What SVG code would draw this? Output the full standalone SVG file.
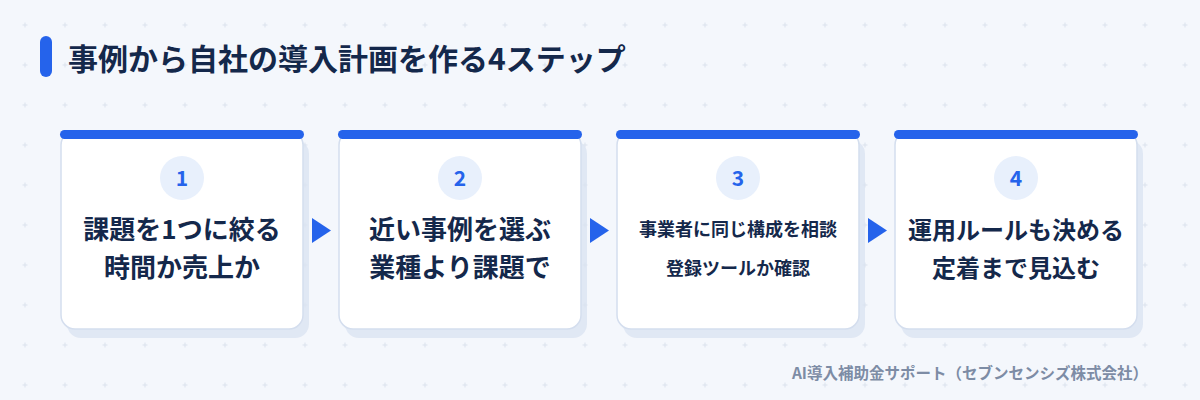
<svg xmlns="http://www.w3.org/2000/svg" width="1200" height="400" viewBox="0 0 1200 400">
  <defs>
    <pattern id="grid" x="5" y="5" width="40" height="40" patternUnits="userSpaceOnUse">
      <path d="M17.5 20h5M20 17.5v5" stroke="#dbe2ed" stroke-width="1"/>
    </pattern>
    <style>
      .t { font-family: "Noto Sans CJK JP", "Noto Sans", sans-serif; font-weight: 700; }
      .title { font-size: 30px; fill: #14284b; }
      .card { fill: #ffffff; stroke: #d4deee; stroke-width: 1.5; }
      .shadow { fill: #dbe4f1; opacity: 0.8; }
      .bar { fill: #2563eb; }
      .badge { fill: #e8f0fc; }
      .num { font-size: 21px; fill: #2563eb; text-anchor: middle; }
      .lbl { font-size: 26px; fill: #14284b; text-anchor: middle; }
      .lblm { font-size: 24px; fill: #14284b; text-anchor: middle; }
      .lbls { font-size: 18px; fill: #14284b; text-anchor: middle; }
      .arrow { fill: #2563eb; }
      .foot { font-size: 15.5px; fill: #7d8ca5; text-anchor: end; }
    </style>
  </defs>
  <rect width="1200" height="400" fill="#f4f7fc"/>
  <rect width="1200" height="400" fill="url(#grid)"/>

  <g id="title">
    <rect x="40" y="36" width="12" height="41" rx="6" fill="#2563eb"/>
    <text class="t title" x="68" y="70">事例から自社の導入計画を作る4ステップ</text>
  </g>

  <g id="step1">
    <rect class="shadow" x="67" y="140" width="242" height="198" rx="14"/>
    <rect class="card" x="61" y="131" width="242" height="198" rx="14"/>
    <rect class="bar" x="60" y="130" width="244" height="9" rx="4.5"/>
    <circle class="badge" cx="182" cy="178" r="22"/>
    <text class="t num" x="182" y="186">1</text>
    <text class="t lbl" x="182" y="239">課題を1つに絞る</text>
    <text class="t lbl" x="182" y="277">時間か売上か</text>
  </g>

  <g id="step2">
    <rect class="shadow" x="345" y="140" width="242" height="198" rx="14"/>
    <rect class="card" x="339" y="131" width="242" height="198" rx="14"/>
    <rect class="bar" x="338" y="130" width="244" height="9" rx="4.5"/>
    <circle class="badge" cx="460" cy="178" r="22"/>
    <text class="t num" x="460" y="186">2</text>
    <text class="t lbl" x="460" y="239">近い事例を選ぶ</text>
    <text class="t lbl" x="460" y="277">業種より課題で</text>
  </g>

  <g id="step3">
    <rect class="shadow" x="623" y="140" width="242" height="198" rx="14"/>
    <rect class="card" x="617" y="131" width="242" height="198" rx="14"/>
    <rect class="bar" x="616" y="130" width="244" height="9" rx="4.5"/>
    <circle class="badge" cx="738" cy="178" r="22"/>
    <text class="t num" x="738" y="186">3</text>
    <text class="t lbls" x="738" y="236">事業者に同じ構成を相談</text>
    <text class="t lbls" x="738" y="275">登録ツールか確認</text>
  </g>

  <g id="step4">
    <rect class="shadow" x="901" y="140" width="242" height="198" rx="14"/>
    <rect class="card" x="895" y="131" width="242" height="198" rx="14"/>
    <rect class="bar" x="894" y="130" width="244" height="9" rx="4.5"/>
    <circle class="badge" cx="1016" cy="178" r="22"/>
    <text class="t num" x="1016" y="186">4</text>
    <text class="t lblm" x="1016" y="239">運用ルールも決める</text>
    <text class="t lblm" x="1016" y="277">定着まで見込む</text>
  </g>

  <g id="connectors">
    <polygon class="arrow" points="312,218 331,230.5 312,243"/>
    <polygon class="arrow" points="590,218 609,230.5 590,243"/>
    <polygon class="arrow" points="868,218 887,230.5 868,243"/>
  </g>

  <g id="footer">
    <text class="t foot" x="1148" y="379">AI導入補助金サポート（セブンセンシズ株式会社）</text>
  </g>
</svg>
